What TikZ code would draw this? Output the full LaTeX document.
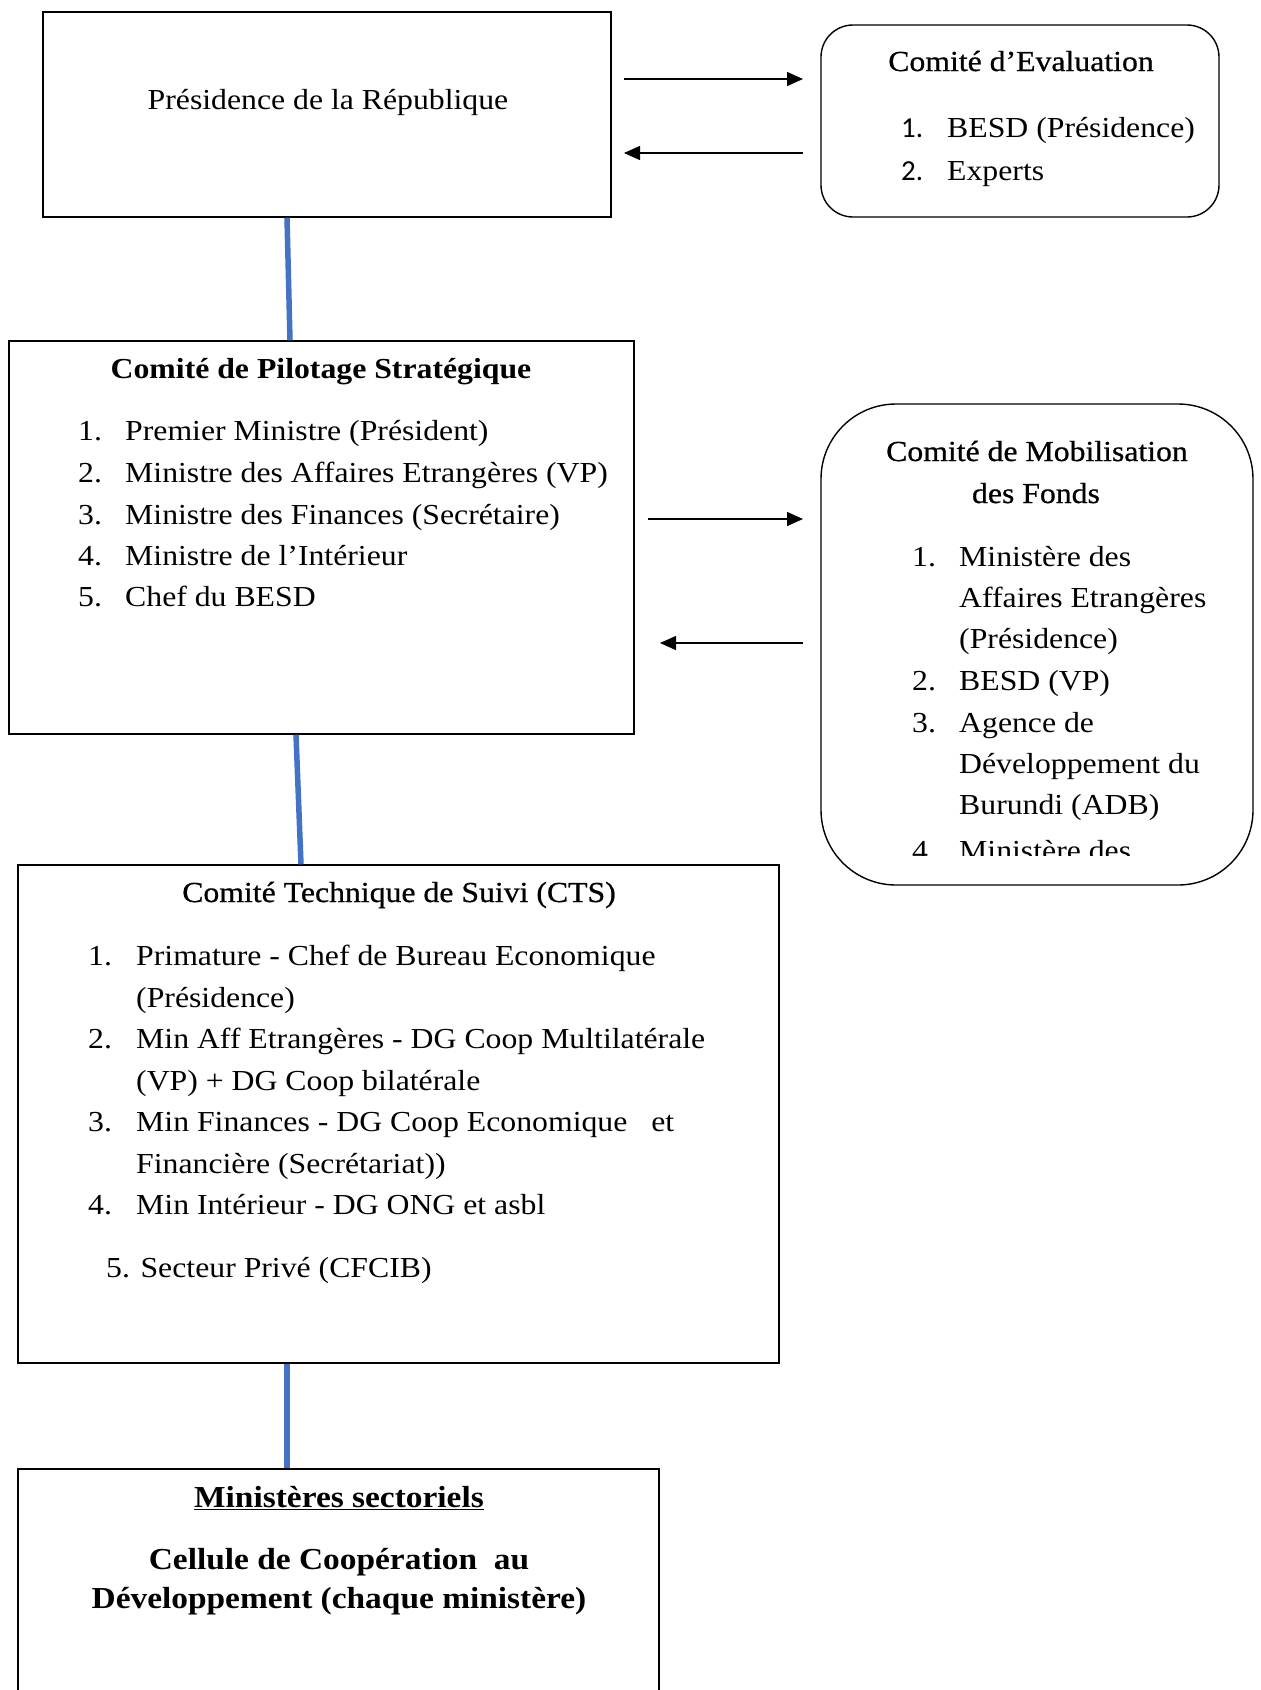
\documentclass[tikz,border=0pt]{standalone}
\usepackage{fontspec}
\setmainfont{Liberation Serif}[FakeStretch=1.095]
\newfontfamily\semifont{Liberation Serif}[FakeStretch=1.095, FakeBold=0.7]
\newfontfamily\numfont{Carlito}
\usetikzlibrary{arrows.meta}
\definecolor{lineblue}{HTML}{4472C4}
\begin{document}
\begin{tikzpicture}[x=1pt,y=-1pt,
  box/.style={draw=black, line width=1.4pt, inner sep=0pt},
  txt/.style={anchor=base west, inner sep=0pt, font=\fontsize{29}{34}\selectfont},
  ctxt/.style={anchor=base, inner sep=0pt, font=\fontsize{29}{34}\selectfont},
  stxt/.style={anchor=base, inner sep=0pt, font=\fontsize{29}{34}\semifont},
  htxt/.style={anchor=base, inner sep=0pt, font=\fontsize{29}{34}\selectfont\bfseries},
  btxt/.style={anchor=base, inner sep=0pt, font=\fontsize{30.5}{36}\selectfont\bfseries},
  link/.style={draw=lineblue, line width=5.5pt},
  flow/.style={draw=black, line width=1.4pt, -{Triangle[length=16pt,width=14pt]}}]
\useasboundingbox (0,0) rectangle (1261,1690);
\fill[white] (0,0) rectangle (1261,1690);

% boxes
\node[box, minimum width=568pt, minimum height=205pt] (pres) at (327,114.5) {};
\node[box, rounded corners=32pt, minimum width=398pt, minimum height=192pt] (eval) at (1020,121) {};
\node[box, minimum width=625pt, minimum height=393pt] (cps) at (321.5,537.5) {};
\node[box, rounded corners=75pt, minimum width=432pt, minimum height=481pt] (mob) at (1037,644.5) {};
\node[box, minimum width=761pt, minimum height=498pt] (cts) at (398.5,1114) {};
\node[box, minimum width=641pt, minimum height=251pt] (mins) at (338.5,1594.5) {};

% Présidence
\node[ctxt] (presT) at (328,109) {Présidence de la République};

% Comité d'Evaluation
\node[stxt] (evT) at (1021,71) {Comité d’Evaluation};
\node[txt] (evN1) at (901,137) {\numfont 1.};
\node[txt] (ev1) at (947,137) {BESD (Présidence)};
\node[txt] (evN2) at (901,180) {\numfont 2.};
\node[txt] (ev2) at (947,180) {Experts};

% Comité de Pilotage
\node[htxt] (cpsT) at (321,378) {Comité de Pilotage Stratégique};
\node[txt] (cpsN1) at (78,440) {1.};
\node[txt] (cps1) at (125,440) {Premier Ministre (Président)};
\node[txt] (cpsN2) at (78,482) {2.};
\node[txt] (cps2) at (125,482) {Ministre des Affaires Etrangères (VP)};
\node[txt] (cpsN3) at (78,524) {3.};
\node[txt] (cps3) at (125,524) {Ministre des Finances (Secrétaire)};
\node[txt] (cpsN4) at (78,565) {4.};
\node[txt] (cps4) at (125,565) {Ministre de l’Intérieur};
\node[txt] (cpsN5) at (78,606) {5.};
\node[txt] (cps5) at (125,606) {Chef du BESD};

% Comité de Mobilisation
\node[stxt] (mobT1) at (1037,461) {Comité de Mobilisation};
\node[stxt] (mobT2) at (1036,503) {des Fonds};
\begin{scope}
\clip (821,404) rectangle (1253,855);
\node[txt] (mobN1) at (912,566) {1.};
\node[txt] (mob1a) at (959,566) {Ministère des};
\node[txt] (mob1b) at (959,607) {Affaires Etrangères};
\node[txt] (mob1c) at (959,648) {(Présidence)};
\node[txt] (mobN2) at (912,690) {2.};
\node[txt] (mob2) at (959,690) {BESD (VP)};
\node[txt] (mobN3) at (912,732) {3.};
\node[txt] (mob3a) at (959,732) {Agence de};
\node[txt] (mob3b) at (959,773) {Développement du};
\node[txt] (mob3c) at (959,814) {Burundi (ADB)};
\node[txt] (mobN4) at (912,860) {4};
\node[txt] (mob4) at (959,860) {Ministère des};
\end{scope}

% Comité Technique de Suivi
\node[stxt] (ctsT) at (399,902) {Comité Technique de Suivi (CTS)};
\node[txt] (ctsN1) at (88,965) {1.};
\node[txt] (cts1a) at (136,965) {Primature - Chef de Bureau Economique};
\node[txt] (cts1b) at (136,1007) {(Présidence)};
\node[txt] (ctsN2) at (88,1048) {2.};
\node[txt] (cts2a) at (136,1048) {Min Aff Etrangères - DG Coop Multilatérale};
\node[txt] (cts2b) at (136,1090) {(VP) + DG Coop bilatérale};
\node[txt] (ctsN3) at (88,1131) {3.};
\node[txt] (cts3a) at (136,1131) {Min Finances - DG Coop Economique\ \ \ et};
\node[txt] (cts3b) at (136,1173) {Financière (Secrétariat))};
\node[txt] (ctsN4) at (88,1214) {4.};
\node[txt] (cts4) at (136,1214) {Min Intérieur - DG ONG et asbl};
\node[txt] (cts5) at (106,1277) {5. Secteur Privé (CFCIB)};

% Ministères sectoriels
\node[btxt] (minT) at (339,1507) {\underline{Ministères sectoriels}};
\node[btxt] (min1) at (339,1569) {Cellule de Coopération\ \ au};
\node[btxt] (min2) at (339,1608) {Développement (chaque ministère)};

% arrows
\coordinate (a1s) at (624,79);  \coordinate (a1e) at (803,79);
\coordinate (a2s) at (803,153); \coordinate (a2e) at (624,153);
\coordinate (a3s) at (648,519); \coordinate (a3e) at (803,519);
\coordinate (a4s) at (803,643); \coordinate (a4e) at (660,643);
\draw[flow] (a1s) -- (a1e);
\draw[flow] (a2s) -- (a2e);
\draw[flow] (a3s) -- (a3e);
\draw[flow] (a4s) -- (a4e);

% blue links
\draw[link] (pres.south -| 287,0) -- (cps.north -| 290,0);
\draw[link] (cps.south -| 296,0) -- (cts.north -| 301,0);
\draw[link] (cts.south -| 287,0) -- (mins.north -| 287,0);
\end{tikzpicture}
\end{document}
